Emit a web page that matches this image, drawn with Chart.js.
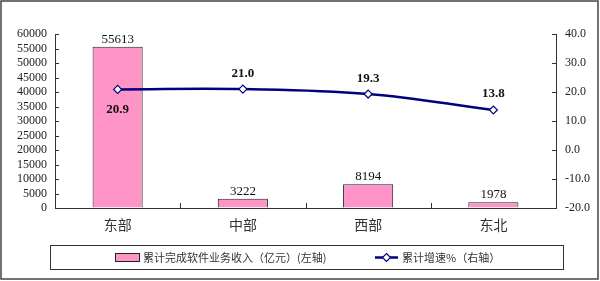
<!DOCTYPE html>
<html><head><meta charset="utf-8">
<script src="https://cdn.jsdelivr.net/npm/chart.js@4/dist/chart.umd.min.js"></script>
<style>html,body{margin:0;padding:0;background:#fff}#wrap{width:600px;height:281px}</style>
</head><body><div id="wrap"><canvas id="c" width="600" height="281"></canvas></div>
<script>
const categories = ['东部', '中部', '西部', '东北'];
const revenue = [55613, 3222, 8194, 1978];
const growth = [20.9, 21.0, 19.3, 13.8];
const leftTicks = [0, 5000, 10000, 15000, 20000, 25000, 30000, 35000, 40000, 45000, 50000, 55000, 60000];
const rightTicks = [-20, -10, 0, 10, 20, 30, 40];
const revenueLabel = '累计完成软件业务收入（亿元）(左轴)';
const growthLabel = '累计增速%（右轴）';

const SERIF = '"Liberation Serif", "Times New Roman", serif';
const CJK = '"Noto Sans CJK SC", sans-serif';
const AXIS = '#333';
const NAVY = '#000080';
const PINK = '#FF94C6';

const decor = {
  id: 'decor',
  afterDraw(chart) {
    const ctx = chart.ctx, a = chart.chartArea;
    const y = chart.scales.y, y1 = chart.scales.y1, x = chart.scales.x;
    ctx.save();
    ctx.strokeStyle = AXIS; ctx.lineWidth = 1;
    y.ticks.forEach((t, i) => { const p = Math.round(y.getPixelForTick(i)) + 0.5; ctx.beginPath(); ctx.moveTo(a.left, p); ctx.lineTo(a.left + 4, p); ctx.stroke(); });
    y1.ticks.forEach((t, i) => { const p = Math.round(y1.getPixelForTick(i)) + 0.5; ctx.beginPath(); ctx.moveTo(a.right, p); ctx.lineTo(a.right - 4, p); ctx.stroke(); });
    for (let i = 1; i < categories.length; i++) {
      const p = Math.round((x.getPixelForTick(i - 1) + x.getPixelForTick(i)) / 2) + 0.5;
      ctx.beginPath(); ctx.moveTo(p, a.bottom); ctx.lineTo(p, a.bottom - 5); ctx.stroke();
    }
    const barMeta = chart.getDatasetMeta(1);
    ctx.fillStyle = '#111'; ctx.font = '13px ' + SERIF; ctx.textAlign = 'center'; ctx.textBaseline = 'bottom';
    barMeta.data.forEach((el, i) => { ctx.fillText(String(revenue[i]), el.x, el.y - 1); });
    const lineMeta = chart.getDatasetMeta(0);
    ctx.font = 'bold 13px ' + SERIF; ctx.textBaseline = 'middle';
    lineMeta.data.forEach((el, i) => {
      const dy = i === 0 ? 20 : (i === 3 ? -16 : -15);
      ctx.fillText(growth[i].toFixed(1), el.x, el.y + dy);
    });
    ctx.strokeStyle = '#333'; ctx.lineWidth = 1;
    ctx.strokeRect(50.5, 245.5, 513, 24);
    ctx.fillStyle = PINK; ctx.fillRect(115.5, 253.5, 24, 8);
    ctx.strokeStyle = '#222'; ctx.strokeRect(115.5, 253.5, 24, 8);
    ctx.fillStyle = '#333'; ctx.font = '11px ' + CJK; ctx.textAlign = 'left'; ctx.textBaseline = 'middle';
    ctx.fillText(revenueLabel, 143, 257.5);
    ctx.strokeStyle = NAVY; ctx.lineWidth = 2.5;
    ctx.beginPath(); ctx.moveTo(375, 257.5); ctx.lineTo(398, 257.5); ctx.stroke();
    ctx.lineWidth = 1.2; ctx.fillStyle = '#fff';
    ctx.beginPath(); ctx.moveTo(386.5, 253.5); ctx.lineTo(390.5, 257.5); ctx.lineTo(386.5, 261.5); ctx.lineTo(382.5, 257.5); ctx.closePath(); ctx.fill(); ctx.stroke();
    ctx.fillStyle = '#333';
    ctx.fillText(growthLabel, 402, 257.5);
    ctx.strokeStyle = '#444'; ctx.lineWidth = 1.5;
    ctx.strokeRect(1, 1, 597, 278);
    ctx.restore();
  }
};

new Chart(document.getElementById('c'), {
  data: {
    labels: categories,
    datasets: [
      { type: 'line', label: growthLabel, data: growth, yAxisID: 'y1', order: 1,
        borderColor: NAVY, borderWidth: 2.5, tension: 0.4, cubicInterpolationMode: 'default',
        pointStyle: 'rectRot', pointRadius: 4, pointBackgroundColor: '#fff', pointBorderColor: NAVY, pointBorderWidth: 1.2, clip: false },
      { type: 'bar', label: revenueLabel, data: revenue, yAxisID: 'y', order: 2,
        backgroundColor: PINK, borderColor: '#222', borderWidth: 1, borderSkipped: 'bottom',
        categoryPercentage: 1, barPercentage: 0.4 }
    ]
  },
  options: {
    responsive: false, animation: false, devicePixelRatio: 1,
    layout: { padding: { top: 34, left: 0, right: 0, bottom: 0 } },
    plugins: { legend: { display: false }, tooltip: { enabled: false } },
    scales: {
      x: {
        grid: { display: true, drawOnChartArea: false, drawTicks: false },
        border: { display: true, color: AXIS, width: 1 },
        ticks: { color: '#333', font: { family: CJK, size: 14 }, padding: 8 },
        afterFit(s) { s.height = 73; }
      },
      y: {
        position: 'left', min: 0, max: 60000,
        afterBuildTicks(s) { s.ticks = leftTicks.map(v => ({ value: v })); },
        grid: { display: true, drawOnChartArea: false, drawTicks: false },
        border: { display: true, color: AXIS, width: 1 },
        ticks: { color: '#222', font: { family: SERIF, size: 12 }, padding: 8, autoSkip: false, callback: v => String(v) },
        afterFit(s) { s.width = 55; }
      },
      y1: {
        position: 'right', min: -20, max: 40,
        afterBuildTicks(s) { s.ticks = rightTicks.map(v => ({ value: v })); },
        grid: { display: true, drawOnChartArea: false, drawTicks: false },
        border: { display: true, color: AXIS, width: 1 },
        ticks: { color: '#222', font: { family: SERIF, size: 12 }, padding: 9, autoSkip: false, callback: v => Number(v).toFixed(1) },
        afterFit(s) { s.width = 44; }
      }
    }
  },
  plugins: [decor]
});
</script></body></html>
